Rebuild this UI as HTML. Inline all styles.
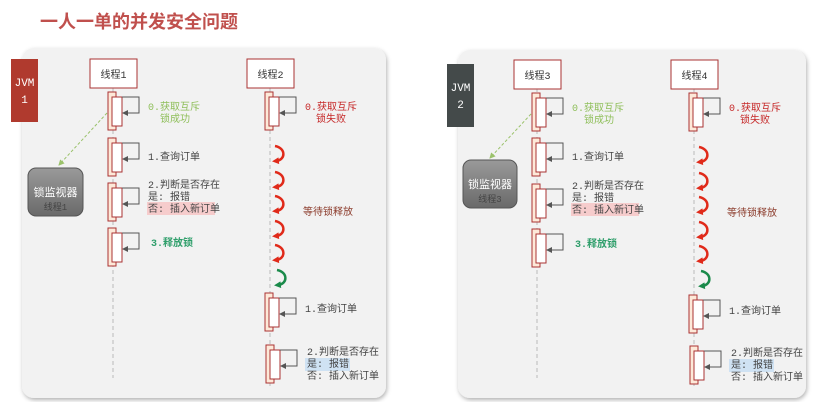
<!DOCTYPE html>
<html><head><meta charset="utf-8"><style>
body{margin:0;width:815px;height:402px;background:#fff;overflow:hidden;font-family:"Liberation Sans","Noto Sans CJK SC",sans-serif}
svg{position:absolute;left:0;top:0}
text{font-family:"Liberation Mono","Noto Sans CJK SC",monospace}
</style></head><body>
<svg width="815" height="402" viewBox="0 0 815 402" xmlns="http://www.w3.org/2000/svg">
<defs>
<filter id="sh" x="-5%" y="-5%" width="110%" height="110%"><feDropShadow dx="1" dy="2" stdDeviation="2" flood-color="#000" flood-opacity="0.3"/></filter>
<linearGradient id="mg" x1="0" y1="0" x2="0" y2="1"><stop offset="0" stop-color="#9a9a9a"/><stop offset="1" stop-color="#6a6a6a"/></linearGradient>
<marker id="ah" markerUnits="userSpaceOnUse" markerWidth="6" markerHeight="6" refX="5" refY="3" orient="auto"><path d="M0,0 L6,3 L0,6z" fill="#555"/></marker>
<marker id="ag" markerUnits="userSpaceOnUse" markerWidth="6" markerHeight="6" refX="5" refY="3" orient="auto"><path d="M0,0 L6,3 L0,6z" fill="#9bc26b"/></marker>
<marker id="ar" markerUnits="userSpaceOnUse" markerWidth="7" markerHeight="7" refX="3" refY="3.5" orient="auto"><path d="M0,0 L7,3.5 L0,7z" fill="#e02a1a"/></marker>
<marker id="agr" markerUnits="userSpaceOnUse" markerWidth="7" markerHeight="7" refX="3" refY="3.5" orient="auto"><path d="M0,0 L7,3.5 L0,7z" fill="#1a8a4a"/></marker>
<g id="blk"><rect x="0" y="0" width="8" height="38" fill="#fde9d9" stroke="#a33" stroke-width="1"/><rect x="4" y="5" width="10" height="29" fill="#fff" stroke="#a33" stroke-width="1"/><polyline points="14,5 31,5 31,21 15,21" fill="none" stroke="#555" stroke-width="1" marker-end="url(#ah)"/></g>
<path id="cr" d="M2,0 C13,2 13,14 3,15" fill="none" stroke="#e02a1a" stroke-width="2.5" marker-end="url(#ar)"/>
<path id="cg" d="M2,0 C13,2 13,14 3,15" fill="none" stroke="#1a8a4a" stroke-width="2.5" marker-end="url(#agr)"/>
</defs>
<text x="40" y="28" font-size="18" font-weight="bold" fill="#c0504d" style="font-family:'Noto Sans CJK SC',sans-serif">一人一单的并发安全问题</text>

<rect x="22" y="48" width="364" height="350" rx="12" fill="#f2f2f2" filter="url(#sh)"/>
<rect x="11" y="59" width="27" height="63" fill="#b03a2e"/>
<text x="24.5" y="86" font-size="11" fill="#fff" text-anchor="middle">JVM</text>
<text x="24.5" y="103" font-size="11" fill="#fff" text-anchor="middle">1</text>
<g>
<line x1="113" y1="88" x2="113" y2="378" stroke="#bbb" stroke-dasharray="4,3"/>
<line x1="270" y1="88" x2="270" y2="388" stroke="#bbb" stroke-dasharray="4,3"/>
<rect x="90" y="59" width="47" height="29" fill="#fff" stroke="#a33"/>
<text x="113.5" y="78" font-size="10" fill="#333" text-anchor="middle">线程1</text>
<rect x="247" y="59" width="47" height="29" fill="#fff" stroke="#a33"/>
<text x="270.5" y="78" font-size="10" fill="#333" text-anchor="middle">线程2</text>
<use href="#blk" x="108" y="92"/><use href="#blk" x="108" y="138"/><use href="#blk" x="108" y="183"/><use href="#blk" x="108" y="228"/>
<use href="#blk" x="265" y="92"/><use href="#blk" x="265" y="293"/><use href="#blk" x="266" y="345"/>
<text x="148" y="110" font-size="10" fill="#8fbf5a">0.获取互斥</text>
<text x="160" y="122" font-size="10" fill="#8fbf5a">锁成功</text>
<text x="148" y="160" font-size="10" fill="#444">1.查询订单</text>
<text x="148" y="188" font-size="10" fill="#444">2.判断是否存在</text>
<text x="148" y="200" font-size="10" fill="#444">是: 报错</text>
<rect x="147" y="202" width="68" height="13" fill="#f6cccc"/>
<text x="148" y="212" font-size="10" fill="#444">否: 插入新订单</text>
<text x="151" y="246" font-size="10" fill="#2e9e6a" font-weight="bold">3.释放锁</text>
<text x="305" y="110" font-size="10" fill="#c62828">0.获取互斥</text>
<text x="316" y="122" font-size="10" fill="#c62828">锁失败</text>
<text x="303" y="215" font-size="10" fill="#8b3a2a">等待锁释放</text>
<text x="305" y="312" font-size="10" fill="#444">1.查询订单</text>
<text x="307" y="355" font-size="10" fill="#444">2.判断是否存在</text>
<rect x="305" y="358" width="45" height="13" fill="#cfe2f3"/>
<text x="307" y="367" font-size="10" fill="#444">是: 报错</text>
<text x="307" y="379" font-size="10" fill="#444">否: 插入新订单</text>
<use href="#cr" x="273" y="146"/><use href="#cr" x="273" y="172"/><use href="#cr" x="273" y="196"/><use href="#cr" x="273" y="221"/><use href="#cr" x="273" y="245"/><use href="#cg" x="275" y="270"/>
<line x1="107" y1="113" x2="59" y2="165" stroke="#9bc26b" stroke-dasharray="3,2" marker-end="url(#ag)"/>
</g>
<rect x="28" y="168" width="55" height="48" rx="8" fill="url(#mg)" stroke="#555"/>
<text x="55.5" y="196" font-size="11" fill="#fff" text-anchor="middle" style="font-family:'Noto Sans CJK SC',sans-serif">锁监视器</text>
<text x="55.5" y="210" font-size="9" fill="#444" text-anchor="middle">线程1</text>

<rect x="458" y="50" width="348" height="348" rx="12" fill="#f2f2f2" filter="url(#sh)"/>
<rect x="447" y="64" width="27" height="63" fill="#444a4a"/>
<text x="460.5" y="91" font-size="11" fill="#fff" text-anchor="middle">JVM</text>
<text x="460.5" y="108" font-size="11" fill="#fff" text-anchor="middle">2</text>
<g transform="translate(424,0)">
<line x1="113" y1="88" x2="113" y2="378" stroke="#bbb" stroke-dasharray="4,3"/>
<line x1="270" y1="88" x2="270" y2="388" stroke="#bbb" stroke-dasharray="4,3"/>
<rect x="90" y="60" width="47" height="29" fill="#fff" stroke="#a33"/>
<text x="113.5" y="79" font-size="10" fill="#333" text-anchor="middle">线程3</text>
<rect x="247" y="60" width="47" height="29" fill="#fff" stroke="#a33"/>
<text x="270.5" y="79" font-size="10" fill="#333" text-anchor="middle">线程4</text>
<use href="#blk" x="108" y="93"/><use href="#blk" x="108" y="138"/><use href="#blk" x="108" y="184"/><use href="#blk" x="108" y="229"/>
<use href="#blk" x="265" y="93"/><use href="#blk" x="265" y="295"/><use href="#blk" x="266" y="346"/>
<text x="148" y="111" font-size="10" fill="#8fbf5a">0.获取互斥</text>
<text x="160" y="123" font-size="10" fill="#8fbf5a">锁成功</text>
<text x="148" y="160" font-size="10" fill="#444">1.查询订单</text>
<text x="148" y="189" font-size="10" fill="#444">2.判断是否存在</text>
<text x="148" y="201" font-size="10" fill="#444">是: 报错</text>
<rect x="147" y="203" width="68" height="13" fill="#f6cccc"/>
<text x="148" y="213" font-size="10" fill="#444">否: 插入新订单</text>
<text x="151" y="247" font-size="10" fill="#2e9e6a" font-weight="bold">3.释放锁</text>
<text x="305" y="111" font-size="10" fill="#c62828">0.获取互斥</text>
<text x="316" y="123" font-size="10" fill="#c62828">锁失败</text>
<text x="303" y="216" font-size="10" fill="#8b3a2a">等待锁释放</text>
<text x="305" y="314" font-size="10" fill="#444">1.查询订单</text>
<text x="307" y="356" font-size="10" fill="#444">2.判断是否存在</text>
<rect x="305" y="359" width="45" height="13" fill="#cfe2f3"/>
<text x="307" y="368" font-size="10" fill="#444">是: 报错</text>
<text x="307" y="380" font-size="10" fill="#444">否: 插入新订单</text>
<use href="#cr" x="273" y="147"/><use href="#cr" x="273" y="173"/><use href="#cr" x="273" y="197"/><use href="#cr" x="273" y="222"/><use href="#cr" x="273" y="246"/><use href="#cg" x="275" y="271"/>
<line x1="107" y1="114" x2="66" y2="158" stroke="#9bc26b" stroke-dasharray="3,2" marker-end="url(#ag)"/>
</g>
<rect x="463" y="160" width="54" height="48" rx="8" fill="url(#mg)" stroke="#555"/>
<text x="490" y="188" font-size="11" fill="#fff" text-anchor="middle" style="font-family:'Noto Sans CJK SC',sans-serif">锁监视器</text>
<text x="490" y="202" font-size="9" fill="#444" text-anchor="middle">线程3</text>
</svg>
</body></html>
